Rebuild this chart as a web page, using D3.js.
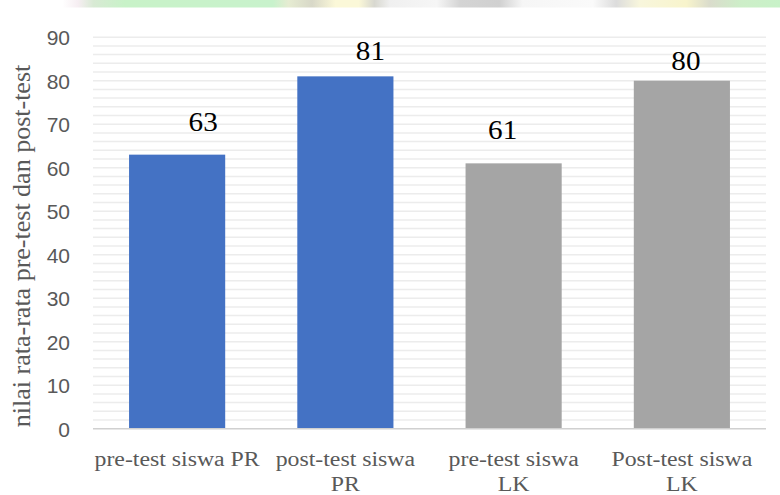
<!DOCTYPE html>
<html>
<head>
<meta charset="utf-8">
<script src="https://cdn.jsdelivr.net/npm/d3@7"></script>
<style>
  html, body { margin: 0; padding: 0; background: #fff; }
  svg { display: block; }
</style>
</head>
<body>
<svg id="chart" width="780" height="495"></svg>
<script>
// Average pre-test / post-test scores
const categories = [
  ["pre-test siswa PR"],
  ["post-test siswa", "PR"],
  ["pre-test siswa", "LK"],
  ["Post-test siswa", "LK"]
];
const values = [63, 81, 61, 80];
const barColors = ["#4472C4", "#4472C4", "#A5A5A5", "#A5A5A5"];
const yTicks = [0, 10, 20, 30, 40, 50, 60, 70, 80, 90];
const yTitle = "nilai rata-rata pre-test dan post-test";

const svg = d3.select("#chart");
const W = 780, H = 495;
const plot = { left: 93, right: 766, top: 37.2, bottom: 428.7 };
const serif = "'Liberation Serif', 'Times New Roman', serif";
const stretch = 1.19;   // text is drawn slightly wide

// hand-placed data label nudges (dx, lift above bar top)
const labelNudge = [[26, 23.5], [25, 16.5], [-11, 24.5], [4, 11]];

// faint decorative strip across the top edge
const defs = svg.append("defs");
const grad = defs.append("linearGradient").attr("id", "topStrip");
[
  [0.00, "#ffffff"], [0.08, "#ffffff"], [0.10, "#f6eef2"], [0.12, "#d8ead4"],
  [0.16, "#c8f2c8"], [0.35, "#c8f2cc"], [0.37, "#e6ecd2"], [0.40, "#d8d8c8"],
  [0.43, "#fbf8d8"], [0.46, "#fbf8d8"], [0.48, "#d8d8d0"], [0.50, "#f0f0f0"],
  [0.56, "#f6f6f6"], [0.59, "#d4d4d4"], [0.64, "#d0d0d0"], [0.67, "#f6f6f6"],
  [0.76, "#fafafa"], [0.79, "#dcdcdc"], [0.82, "#f8f6dc"], [0.88, "#f8f4cc"],
  [0.91, "#dadccc"], [0.95, "#cdeec8"], [1.00, "#c8f2c8"]
].forEach(([o, c]) => grad.append("stop").attr("offset", o).attr("stop-color", c));
svg.append("rect").attr("x", 0).attr("y", 0).attr("width", W).attr("height", 7.5)
  .attr("fill", "url(#topStrip)");

const x = d3.scaleBand()
  .domain(d3.range(categories.length))
  .range([plot.left, plot.right])
  .paddingInner(0.4286)
  .paddingOuter(0.2143);

const y = d3.scaleLinear().domain([0, 90]).range([plot.bottom, plot.top]);

// gridlines every 2 units
const gridVals = d3.range(2, 91, 2);
svg.append("g").selectAll("line").data(gridVals).join("line")
  .attr("x1", plot.left).attr("x2", plot.right)
  .attr("y1", d => y(d)).attr("y2", d => y(d))
  .attr("stroke", "#ececec").attr("stroke-width", 1.5);

// y axis labels
const yAxis = d3.axisLeft(y).tickValues(yTicks).tickSize(0).tickPadding(0);
const yg = svg.append("g").attr("transform", `translate(${plot.left - 23},0)`).call(yAxis);
yg.select(".domain").remove();
yg.selectAll("text")
  .attr("font-family", "'Liberation Sans', Arial, sans-serif")
  .attr("font-size", 21).attr("fill", "#595959").attr("dy", "0.36em");

// bars
svg.append("g").selectAll("rect").data(values).join("rect")
  .attr("x", (d, i) => x(i))
  .attr("width", x.bandwidth())
  .attr("y", d => y(d))
  .attr("height", d => y(0) - y(d))
  .attr("fill", (d, i) => barColors[i]);

// baseline
svg.append("line")
  .attr("x1", plot.left).attr("x2", plot.right)
  .attr("y1", y(0)).attr("y2", y(0))
  .attr("stroke", "#d0d0d0").attr("stroke-width", 1.5);

// value labels
svg.append("g").selectAll("text").data(values).join("text")
  .attr("transform", (d, i) =>
    `translate(${x(i) + x.bandwidth() / 2 + labelNudge[i][0]},${y(d) - labelNudge[i][1]}) scale(1.08,1)`)
  .attr("text-anchor", "middle")
  .attr("font-family", serif)
  .attr("font-size", 27).attr("fill", "#000")
  .text(d => d);

// category labels
const xl = svg.append("g").selectAll("text").data(categories).join("text")
  .attr("transform", (d, i) => `translate(${x(i) + x.bandwidth() / 2},466) scale(${stretch},1)`)
  .attr("text-anchor", "middle")
  .attr("font-family", serif)
  .attr("font-size", 20).attr("fill", "#595959");
xl.selectAll("tspan").data(d => d).join("tspan")
  .attr("x", 0)
  .attr("dy", (d, i) => i === 0 ? 0 : 25)
  .text(d => d);

// y axis title
svg.append("text")
  .attr("transform", `translate(30,${(plot.top + plot.bottom) / 2 + 13}) rotate(-90)`)
  .attr("text-anchor", "middle")
  .attr("font-family", serif)
  .attr("font-size", 26).attr("fill", "#595959")
  .text(yTitle);
</script>
</body>
</html>
